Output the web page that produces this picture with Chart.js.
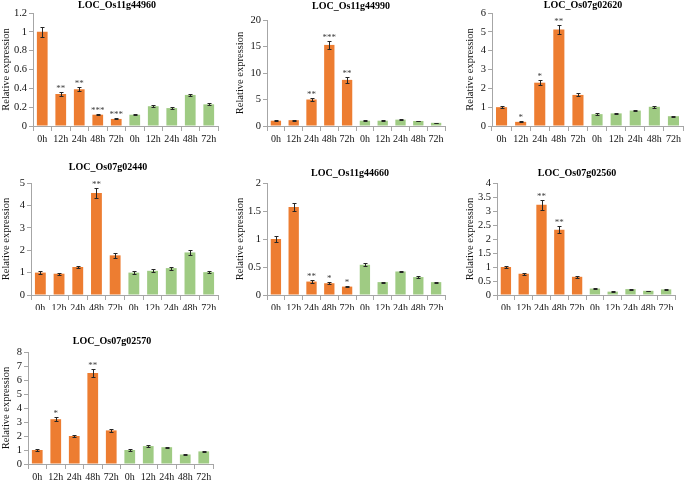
<!DOCTYPE html>
<html><head><meta charset="utf-8">
<script src="https://cdn.jsdelivr.net/npm/chart.js@4"></script>
<style>html,body{margin:0;padding:0;background:#fff;}.p{position:absolute;}</style>
</head><body>
<div id="wrap" style="position:relative;width:685px;height:481px;overflow:hidden;"></div>
<script>
// ---- Data ----
const timePoints = ['0h', '12h', '24h', '48h', '72h'];
const categories = [...timePoints, ...timePoints];

const geneNames = ['LOC_Os11g44960', 'LOC_Os11g44990', 'LOC_Os07g02620', 'LOC_Os07g02440', 'LOC_Os11g44660', 'LOC_Os07g02560', 'LOC_Os07g02570'];

// orange series (first group) and green series (second group): means
const os11g44960_orange = [1.00, 0.34, 0.39, 0.12, 0.075];
const os11g44960_green  = [0.12, 0.21, 0.19, 0.33, 0.23];
const os11g44990_orange = [1.0, 1.1, 5.0, 15.3, 8.7];
const os11g44990_green  = [1.0, 1.0, 1.2, 0.95, 0.6];
const os07g02620_orange = [1.0, 0.22, 2.3, 5.12, 1.65];
const os07g02620_green  = [0.63, 0.67, 0.82, 1.02, 0.52];
const os07g02440_orange = [1.0, 0.95, 1.25, 4.55, 1.77];
const os07g02440_green  = [1.0, 1.08, 1.2, 1.9, 1.02];
const os11g44660_orange = [1.0, 1.57, 0.24, 0.21, 0.15];
const os11g44660_green  = [0.54, 0.23, 0.42, 0.32, 0.23];
const os07g02560_orange = [1.0, 0.76, 3.22, 2.33, 0.65];
const os07g02560_green  = [0.23, 0.12, 0.21, 0.15, 0.2];
const os07g02570_orange = [1.0, 3.2, 2.0, 6.5, 2.4];
const os07g02570_green  = [1.0, 1.28, 1.2, 0.68, 0.9];

// error bars
const os11g44960_orangeErr = [0.05, 0.02, 0.02, 0.008, 0.005];
const os11g44960_greenErr  = [0.008, 0.01, 0.01, 0.015, 0.01];
const os11g44990_orangeErr = [0.1, 0.12, 0.2, 0.7, 0.5];
const os11g44990_greenErr  = [0.08, 0.08, 0.08, 0.08, 0.05];
const os07g02620_orangeErr = [0.05, 0.02, 0.12, 0.25, 0.08];
const os07g02620_greenErr  = [0.04, 0.03, 0.05, 0.05, 0.03];
const os07g02440_orangeErr = [0.05, 0.05, 0.06, 0.22, 0.1];
const os07g02440_greenErr  = [0.05, 0.06, 0.07, 0.1, 0.05];
const os11g44660_orangeErr = [0.05, 0.07, 0.02, 0.015, 0.012];
const os11g44660_greenErr  = [0.03, 0.01, 0.015, 0.015, 0.01];
const os07g02560_orangeErr = [0.05, 0.04, 0.17, 0.12, 0.03];
const os07g02560_greenErr  = [0.015, 0.01, 0.015, 0.01, 0.01];
const os07g02570_orangeErr = [0.05, 0.15, 0.08, 0.3, 0.12];
const os07g02570_greenErr  = [0.05, 0.06, 0.05, 0.03, 0.04];

// significance marks (orange group)
const os11g44960_stars = ['', '**', '**', '***', '***'];
const os11g44990_stars = ['', '', '**', '***', '**'];
const os07g02620_stars = ['', '*', '*', '**', ''];
const os07g02440_stars = ['', '', '', '**', ''];
const os11g44660_stars = ['', '', '**', '*', '*'];
const os07g02560_stars = ['', '', '**', '**', ''];
const os07g02570_stars = ['', '*', '', '**', ''];

// y-axis tick ranges
const yAxisMax  = [1.2, 20, 6, 5, 2, 4, 8];
const yAxisStep = [0.2, 5, 1, 1, 0.5, 0.5, 1];

const panelData = [
  [os11g44960_orange, os11g44960_green, os11g44960_orangeErr, os11g44960_greenErr, os11g44960_stars],
  [os11g44990_orange, os11g44990_green, os11g44990_orangeErr, os11g44990_greenErr, os11g44990_stars],
  [os07g02620_orange, os07g02620_green, os07g02620_orangeErr, os07g02620_greenErr, os07g02620_stars],
  [os07g02440_orange, os07g02440_green, os07g02440_orangeErr, os07g02440_greenErr, os07g02440_stars],
  [os11g44660_orange, os11g44660_green, os11g44660_orangeErr, os11g44660_greenErr, os11g44660_stars],
  [os07g02560_orange, os07g02560_green, os07g02560_orangeErr, os07g02560_greenErr, os07g02560_stars],
  [os07g02570_orange, os07g02570_green, os07g02570_orangeErr, os07g02570_greenErr, os07g02570_stars]
];

// ---- Layout (positions/styles) ----
const boxes = [
  {x:0,   y:0,   w:225, h:150, l:33, r:218, t:13, b:126, tx:117, ty:5,  yp:0},
  {x:225, y:0,   w:230, h:150, l:42, r:220, t:20, b:126, tx:126, ty:6,  yp:9},
  {x:455, y:0,   w:230, h:150, l:37, r:228, t:13, b:126, tx:128, ty:5,  yp:9},
  {x:0,   y:150, w:225, h:160, l:31, r:218, t:33, b:145, tx:108, ty:17, yp:0},
  {x:225, y:150, w:230, h:160, l:42, r:220, t:33, b:145, tx:125, ty:23, yp:9},
  {x:455, y:150, w:230, h:160, l:42, r:220, t:33, b:145, tx:122, ty:23, yp:9},
  {x:0,   y:310, w:225, h:171, l:28, r:213, t:42, b:154, tx:112, ty:31, yp:0}
];
const ORANGE = '#ED7D31', GREEN = '#9FCB83', AXIS = '#A6A6A6', FONT = '"Liberation Serif", "Times New Roman", serif';

const annot = {
  id: 'annot',
  afterDatasetsDraw(chart, args, opts) {
    const ctx = chart.ctx, ys = chart.scales.y, meta = chart.getDatasetMeta(0);
    ctx.save();
    ctx.strokeStyle = '#262626'; ctx.lineWidth = 1;
    ctx.fillStyle = '#404040'; ctx.font = '9px ' + FONT; ctx.textAlign = 'center'; ctx.textBaseline = 'alphabetic';
    meta.data.forEach((bar, i) => {
      const v = opts.values[i], e = opts.errors[i];
      const x = Math.round(bar.x) + 0.5;
      const yt = Math.round(ys.getPixelForValue(v + e)) + 0.5;
      const yb = Math.round(ys.getPixelForValue(Math.max(v - e, 0))) + 0.5;
      ctx.beginPath();
      ctx.moveTo(x, yt); ctx.lineTo(x, yb);
      ctx.moveTo(x - 2, yt); ctx.lineTo(x + 2, yt);
      ctx.moveTo(x - 2, yb); ctx.lineTo(x + 2, yb);
      ctx.stroke();
      if (opts.stars[i]) ctx.fillText(opts.stars[i], bar.x, yt - 2);
    });
    ctx.fillStyle = '#000'; ctx.font = 'bold 10px ' + FONT; ctx.textBaseline = 'middle';
    ctx.fillText(opts.title, opts.tx, opts.ty);
    ctx.restore();
  }
};

const wrap = document.getElementById('wrap');
panelData.forEach((pd, k) => {
  const bx = boxes[k];
  const [a, g, ea, eg, st] = pd;
  const div = document.createElement('div');
  div.className = 'p';
  Object.assign(div.style, {left: bx.x + 'px', top: bx.y + 'px', width: bx.w + 'px', height: bx.h + 'px'});
  const cv = document.createElement('canvas');
  div.appendChild(cv); wrap.appendChild(div);
  const values = [...a, ...g];
  const errors = [...ea, ...eg];
  const stars = [...st, '', '', '', '', ''];
  new Chart(cv, {
    type: 'bar',
    data: {
      labels: categories,
      datasets: [{
        data: values,
        backgroundColor: values.map((v, i) => i < 5 ? ORANGE : GREEN),
        borderWidth: 0,
        barPercentage: 0.58,
        categoryPercentage: 1.0
      }]
    },
    plugins: [annot],
    options: {
      responsive: true, maintainAspectRatio: false, animation: false,
      layout: {padding: {left: 0, top: bx.t, right: bx.w - bx.r, bottom: 0}},
      plugins: {
        legend: {display: false}, tooltip: {enabled: false}, title: {display: false},
        annot: {values, errors, stars, title: geneNames[k], tx: bx.tx, ty: bx.ty}
      },
      scales: {
        x: {
          grid: {display: true, drawOnChartArea: false, drawTicks: true, tickLength: 5, color: AXIS, offset: true},
          border: {display: true, color: AXIS},
          ticks: {color: '#111', font: {family: FONT, size: 10}, maxRotation: 0, minRotation: 0, autoSkip: false, padding: 2},
          afterFit(s) { s.height = bx.h - bx.b; }
        },
        y: {
          min: 0, max: yAxisMax[k],
          grid: {display: true, drawOnChartArea: false, drawTicks: true, tickLength: 4, color: AXIS},
          border: {display: true, color: AXIS},
          ticks: {stepSize: yAxisStep[k], autoSkip: false, color: '#111', font: {family: FONT, size: 10.5}, padding: 2,
                  callback: v => String(+(+v).toFixed(2))},
          title: {display: true, text: 'Relative expression', color: '#111', font: {family: FONT, size: 10.5}, padding: {top: bx.yp, bottom: 0}},
          afterFit(s) { s.width = bx.l; }
        }
      }
    }
  });
});
</script>
</body></html>
